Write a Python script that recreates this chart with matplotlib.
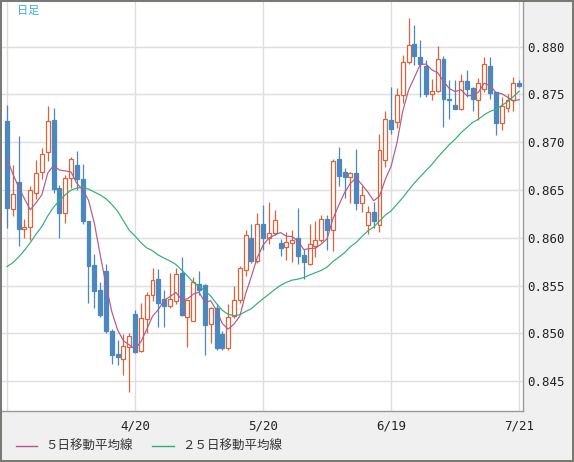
"""daily candlestick chart with 5/25 day moving averages"""
import matplotlib
matplotlib.use('Agg')
import matplotlib.pyplot as plt
import matplotlib.patches as mp
from matplotlib.lines import Line2D
import numpy as np

W, H, DPI = 574, 462, 100

BG    = '#f0f0f0'
UP    = '#d8643c'
DOWN  = '#4a88bf'
MA5_C = '#b25a8c'
MA25_C= '#2fb07a'
GRID  = '#dedede'
TXT   = '#222222'
FRAME = '#7a7a74'

# ─── DATA (open / high / low / close per trading day) ─────────────────────
opens = [0.8722, 0.8630, 0.8658, 0.8609, 0.8611, 0.8647, 0.8669, 0.8690, 0.8723, 0.8652,
         0.8626, 0.8663, 0.8676, 0.8662, 0.8618, 0.8572, 0.8546, 0.8565, 0.8503, 0.8479,
         0.8473, 0.8486, 0.8520, 0.8482, 0.8515, 0.8540, 0.8557, 0.8536, 0.8529, 0.8534,
         0.8563, 0.8517, 0.8513, 0.8552, 0.8551, 0.8510, 0.8527, 0.8499, 0.8485, 0.8518,
         0.8535, 0.8566, 0.8600, 0.8576, 0.8615, 0.8600, 0.8605, 0.8595, 0.8590, 0.8595,
         0.8600, 0.8582, 0.8573, 0.8592, 0.8598, 0.8620, 0.8608, 0.8683, 0.8669, 0.8664,
         0.8668, 0.8636, 0.8613, 0.8627, 0.8613, 0.8681, 0.8723, 0.8721, 0.8749, 0.8784,
         0.8803, 0.8789, 0.8780, 0.8750, 0.8754, 0.8787, 0.8745, 0.8739, 0.8735, 0.8764,
         0.8757, 0.8744, 0.8756, 0.8780, 0.8753, 0.8720, 0.8736, 0.8744, 0.8762]
highs = [0.8739, 0.8676, 0.8707, 0.8620, 0.8654, 0.8681, 0.8694, 0.8738, 0.8736, 0.8655,
         0.8666, 0.8685, 0.8691, 0.8677, 0.8618, 0.8583, 0.8554, 0.8573, 0.8505, 0.8493,
         0.8499, 0.8500, 0.8525, 0.8532, 0.8543, 0.8569, 0.8567, 0.8546, 0.8563, 0.8569,
         0.8580, 0.8535, 0.8559, 0.8565, 0.8552, 0.8528, 0.8531, 0.8503, 0.8531, 0.8550,
         0.8571, 0.8608, 0.8615, 0.8626, 0.8634, 0.8638, 0.8629, 0.8599, 0.8606, 0.8608,
         0.8631, 0.8588, 0.8615, 0.8618, 0.8624, 0.8624, 0.8682, 0.8695, 0.8673, 0.8669,
         0.8693, 0.8654, 0.8633, 0.8638, 0.8709, 0.8733, 0.8758, 0.8757, 0.8791, 0.8830,
         0.8823, 0.8807, 0.8786, 0.8766, 0.8801, 0.8790, 0.8765, 0.8765, 0.8771, 0.8776,
         0.8758, 0.8767, 0.8789, 0.8789, 0.8753, 0.8747, 0.8751, 0.8768, 0.8765]
lows  = [0.8610, 0.8623, 0.8591, 0.8600, 0.8598, 0.8641, 0.8662, 0.8680, 0.8647, 0.8600,
         0.8616, 0.8652, 0.8650, 0.8615, 0.8532, 0.8527, 0.8517, 0.8500, 0.8468, 0.8467,
         0.8457, 0.8439, 0.8480, 0.8481, 0.8501, 0.8534, 0.8507, 0.8507, 0.8527, 0.8531,
         0.8518, 0.8486, 0.8513, 0.8540, 0.8477, 0.8490, 0.8483, 0.8483, 0.8483, 0.8516,
         0.8532, 0.8560, 0.8574, 0.8574, 0.8587, 0.8594, 0.8603, 0.8581, 0.8577, 0.8575,
         0.8573, 0.8557, 0.8572, 0.8580, 0.8596, 0.8587, 0.8586, 0.8654, 0.8642, 0.8637,
         0.8629, 0.8627, 0.8604, 0.8610, 0.8606, 0.8674, 0.8709, 0.8715, 0.8741, 0.8782,
         0.8781, 0.8747, 0.8747, 0.8744, 0.8753, 0.8716, 0.8724, 0.8735, 0.8734, 0.8747,
         0.8733, 0.8723, 0.8753, 0.8745, 0.8708, 0.8713, 0.8732, 0.8733, 0.8758]
closes = [0.8631, 0.8646, 0.8609, 0.8611, 0.8650, 0.8668, 0.8688, 0.8722, 0.8651, 0.8626,
          0.8663, 0.8683, 0.8662, 0.8618, 0.8571, 0.8544, 0.8519, 0.8503, 0.8478, 0.8475,
          0.8487, 0.8497, 0.8481, 0.8516, 0.8540, 0.8556, 0.8532, 0.8529, 0.8536, 0.8562,
          0.8519, 0.8535, 0.8554, 0.8546, 0.8509, 0.8527, 0.8485, 0.8485, 0.8517, 0.8535,
          0.8568, 0.8603, 0.8576, 0.8615, 0.8600, 0.8605, 0.8619, 0.8589, 0.8596, 0.8598,
          0.8581, 0.8575, 0.8594, 0.8598, 0.8620, 0.8608, 0.8680, 0.8665, 0.8664, 0.8668,
          0.8636, 0.8645, 0.8627, 0.8618, 0.8692, 0.8724, 0.8714, 0.8749, 0.8784, 0.8802,
          0.8790, 0.8782, 0.8751, 0.8754, 0.8787, 0.8745, 0.8744, 0.8735, 0.8764, 0.8756,
          0.8745, 0.8762, 0.8782, 0.8752, 0.8720, 0.8738, 0.8744, 0.8762, 0.8759]

# moving averages before enough closes are visible
ma5_head  = [0.8683, 0.8667, 0.8653, 0.8641]
ma25_head = [0.8570, 0.8574, 0.8580, 0.8587, 0.8595, 0.8604, 0.8612, 0.8623,
             0.8632, 0.8639, 0.8645, 0.8650, 0.8652, 0.8653, 0.8651, 0.8648,
             0.8645, 0.8641, 0.8635, 0.8628, 0.8618, 0.8608, 0.8602, 0.8595]

date_ticks  = [0, 22, 44, 66, 88]
date_labels = ['', '4/20', '5/20', '6/19', '7/21']
price_ticks = [0.845, 0.850, 0.855, 0.860, 0.865, 0.870, 0.875, 0.880]

legend_labels = ['５日移動平均線', '２５日移動平均線']

# ─── DERIVED ──────────────────────────────────────────────────────────────
o = np.array(opens); hi = np.array(highs); lo = np.array(lows); c = np.array(closes)
n = len(c)
idx = np.arange(n)

def moving_avg(head, win):
    tail = [c[i - win + 1:i + 1].mean() for i in range(win - 1, n)]
    return np.array(list(head) + tail)

ma5 = moving_avg(ma5_head, 5)
ma25 = moving_avg(ma25_head, 25)

# ─── FIGURE ───────────────────────────────────────────────────────────────
plt.rcParams['font.family'] = ['DejaVu Sans Mono']
fig = plt.figure(figsize=(W / DPI, H / DPI), dpi=DPI)
fig.patch.set_facecolor(BG)

# plot area in pixels: x 2..523, y(top) 1..411
ax = fig.add_axes([2 / W, (H - 411) / H, 521 / W, 410 / H])
ax.set_facecolor('white')
ax.set_xlim(-0.86, 88.66)
ax.set_ylim(0.84189, 0.88478)

ax.set_axisbelow(True)
ax.set_xticks(date_ticks)
ax.set_xticklabels(date_labels)
ax.set_yticks(price_ticks)
ax.set_yticklabels([f'{v:.3f}' for v in price_ticks])
ax.yaxis.tick_right()
ax.tick_params(axis='both', length=0, labelsize=9, colors=TXT)
ax.tick_params(axis='y', pad=3)
ax.tick_params(axis='x', pad=6)
ax.grid(True, color=GRID, lw=1.0)

for s in ('left', 'top'):
    ax.spines[s].set_visible(False)
for s in ('right', 'bottom'):
    ax.spines[s].set_color('#9a9a9a')
    ax.spines[s].set_linewidth(1.0)

# candles
up = c >= o
col = np.where(up, UP, DOWN)
ax.vlines(idx, lo, hi, colors=col, lw=0.9, zorder=2)
body_bot = np.minimum(o, c)
body_h = np.maximum(np.abs(c - o), 0.00006)
ax.bar(idx, body_h, bottom=body_bot, width=0.68,
       color=np.where(up, 'white', DOWN), edgecolor=col, linewidth=0.9, zorder=3)

# moving averages
ax.plot(idx, ma25, color=MA25_C, lw=0.85, zorder=4)
ax.plot(idx, ma5, color=MA5_C, lw=0.85, zorder=5)

# title
fig.text(17 / W, 1 - 11 / H, '日足', ha='left', va='center', fontsize=8,
         color='#3aaee0', family=['Noto Sans CJK JP', 'DejaVu Sans'])

# legend
ly = 1 - 446 / H
for (x0, x1, tx), lab, lc in zip([(16, 37, 45), (152, 174, 182)],
                                 legend_labels, [MA5_C, MA25_C]):
    fig.add_artist(Line2D([x0 / W, x1 / W], [ly, ly], color=lc, lw=1.0,
                          transform=fig.transFigure))
    fig.text(tx / W, ly, lab, ha='left', va='center', fontsize=9, color='#333333',
             family=['Noto Sans CJK JP', 'DejaVu Sans'])

# outer frame
fig.add_artist(mp.Rectangle((0, 0), 1, 1, transform=fig.transFigure,
                            fill=False, ec=FRAME, lw=2.9))

fig.savefig('out.png', dpi=DPI, facecolor=BG)
plt.close()
